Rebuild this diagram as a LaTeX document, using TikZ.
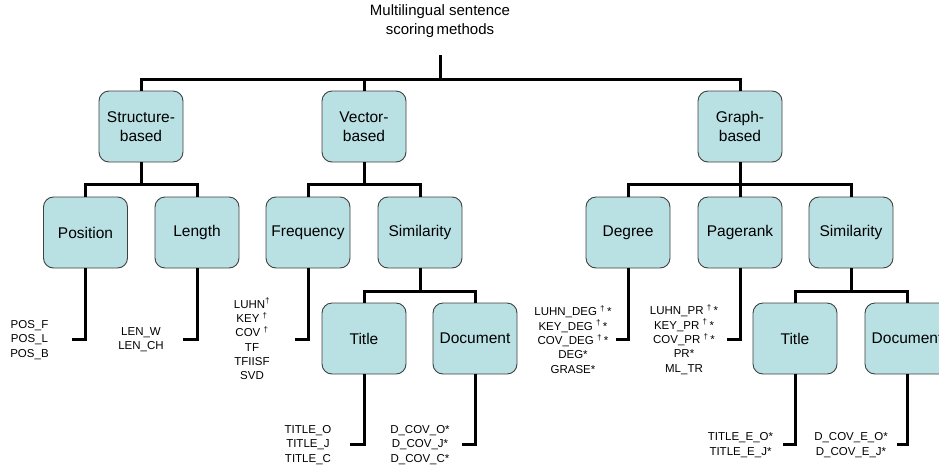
\documentclass[tikz,border=0pt]{standalone}
\usepackage{fontspec}
\setmainfont{Liberation Sans}
\definecolor{boxfill}{RGB}{185,224,227}
\definecolor{boxline}{RGB}{64,64,64}
\begin{document}
\begin{tikzpicture}[x=1pt,y=-1pt,
 box/.style={draw=boxline, line width=0.9pt, fill=boxfill, rounded corners=10pt, minimum width=84pt, minimum height=71pt, align=center, font=\fontsize{15.5}{18.5}\selectfont, inner sep=0pt},
 leaf/.style={align=center, font=\fontsize{11.5}{14.3}\selectfont, inner sep=0pt},
 toptitle/.style={align=center, font=\fontsize{15}{19}\selectfont, inner sep=0pt},
 conn/.style={line width=3pt, line join=miter}]
\useasboundingbox[fill=white] (0,0) rectangle (939,472);
% title
\node[toptitle] (root) at (440,21) {Multilingual sentence\\scoring\,methods};
\coordinate (r0) at (440,55);
% level 1
\node[box] (sb) at (141,126.5) {Structure-\\based};
\node[box] (vb) at (364,126.5) {Vector-\\based};
\node[box] (gb) at (740,126.5) {Graph-\\based};
% level 2
\node[box] (pos) at (85.5,232.5) {Position};
\node[box] (len) at (197,232.5) {Length};
\node[box] (freq) at (308,232.5) {Frequency};
\node[box] (vsim) at (420,232.5) {Similarity};
\node[box] (deg) at (628,232.5) {Degree};
\node[box] (pr) at (740,232.5) {Pagerank};
\node[box] (gsim) at (851,232.5) {Similarity};
% level 3
\node[box] (vtitle) at (364,338.5) {Title};
\node[box] (vdoc) at (475,338.5) {Document};
\node[box] (gtitle) at (795,338.5) {Title};
\node[box] (gdoc) at (907,338.5) {Document};
% connectors
\draw[conn] (r0) -- ++(0,24) -| (sb.north);
\draw[conn] (r0) -- ++(0,24) -| (vb.north);
\draw[conn] (r0) -- ++(0,24) -| (gb.north);
\draw[conn] (sb.south) -- ++(0,22) -| (pos.north);
\draw[conn] (sb.south) -- ++(0,22) -| (len.north);
\draw[conn] (vb.south) -- ++(0,22) -| (freq.north);
\draw[conn] (vb.south) -- ++(0,22) -| (vsim.north);
\draw[conn] (gb.south) -- ++(0,22) -| (deg.north);
\draw[conn] (gb.south) -- ++(0,22) -| (pr.north);
\draw[conn] (gb.south) -- ++(0,22) -| (gsim.north);
\draw[conn] (vsim.south) -- ++(0,23) -| (vtitle.north);
\draw[conn] (vsim.south) -- ++(0,23) -| (vdoc.north);
\draw[conn] (gsim.south) -- ++(0,23) -| (gtitle.north);
\draw[conn] (gsim.south) -- ++(0,23) -| (gdoc.north);
% leaf stubs
\coordinate (posE) at (72,339);
\coordinate (lenE) at (183,339);
\coordinate (freqE) at (295,339);
\coordinate (vtitleE) at (350,444);
\coordinate (vdocE) at (462,444);
\coordinate (degE) at (616,339);
\coordinate (prE) at (727,339);
\coordinate (gtitleE) at (783,444);
\coordinate (gdocE) at (897,444);
\draw[conn] (pos.south) |- (posE);
\draw[conn] (len.south) |- (lenE);
\draw[conn] (freq.south) |- (freqE);
\draw[conn] (vtitle.south) |- (vtitleE);
\draw[conn] (vdoc.south) |- (vdocE);
\draw[conn] (deg.south) |- (degE);
\draw[conn] (pr.south) |- (prE);
\draw[conn] (gtitle.south) |- (gtitleE);
\draw[conn] (gdoc.south) |- (gdocE);
% leaf texts
\node[leaf] (posL) at (29.5,340) {POS\_F\\POS\_L\\POS\_B};
\node[leaf] (lenL) at (141,339.5) {LEN\_W\\LEN\_CH};
\node[leaf] (freqL) at (252,339) {LUHN\textsuperscript{†}\\KEY \textsuperscript{†}\\COV \textsuperscript{†}\\TF\\TFIISF\\SVD};
\node[leaf] (vtitleL) at (308,445) {TITLE\_O\\TITLE\_J\\TITLE\_C};
\node[leaf] (vdocL) at (420,445) {D\_COV\_O*\\D\_COV\_J*\\D\_COV\_C*};
\node[leaf] (degL) at (573,339.5) {LUHN\_DEG \textsuperscript{†}\,*\\KEY\_DEG \textsuperscript{†}\,*\\COV\_DEG \textsuperscript{†}\,*\\DEG*\\GRASE*};
\node[leaf] (prL) at (684,339.5) {LUHN\_PR \textsuperscript{†}\,*\\KEY\_PR \textsuperscript{†}\,*\\COV\_PR \textsuperscript{†}\,*\\PR*\\ML\_TR};
\node[leaf] (gtitleL) at (740.5,445) {TITLE\_E\_O*\\TITLE\_E\_J*};
\node[leaf] (gdocL) at (851,445) {D\_COV\_E\_O*\\D\_COV\_E\_J*};
\end{tikzpicture}
\end{document}
